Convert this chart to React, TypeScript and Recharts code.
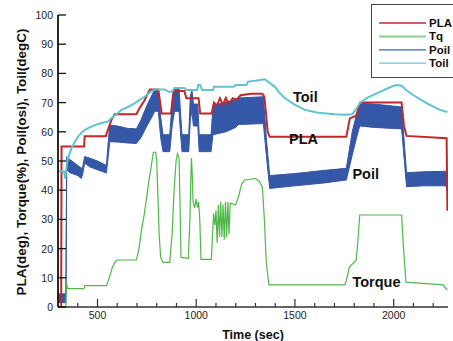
import React from 'react';
import { ComposedChart, Line, Area, Scatter, XAxis, YAxis } from 'recharts';

// ---- Data ----
const plaT = [300, 316, 318, 432, 435, 542, 555, 570, 587, 697, 712, 740, 765, 808, 825, 872, 885, 940, 950, 1012, 1020, 1078, 1090, 1105, 1120, 1135, 1150, 1165, 1185, 1204, 1225, 1280, 1335, 1345, 1362, 1372, 1760, 1778, 1810, 1830, 2040, 2052, 2065, 2268, 2272];
const plaV = [0, 0, 55, 55, 58.5, 58.5, 61, 64, 66, 66, 68, 71, 74.5, 74.5, 66.3, 66.3, 74, 74, 71.5, 71.5, 66.3, 66.3, 70, 69, 71.5, 69.2, 71.6, 69.5, 71.5, 71, 72.5, 73, 73, 72, 60, 58.3, 58.3, 64.6, 65.5, 70, 70, 62, 58.6, 57.8, 33];

const tqT = [300, 340, 342, 348, 432, 436, 545, 560, 575, 590, 600, 697, 710, 722, 735, 748, 760, 773, 783, 795, 800, 806, 812, 820, 832, 866, 878, 888, 898, 905, 913, 918, 923, 960, 968, 973, 976, 980, 984, 992, 1000, 1006, 1012, 1018, 1024, 1077, 1082, 1088, 1094, 1100, 1106, 1112, 1118, 1124, 1130, 1136, 1142, 1148, 1154, 1160, 1166, 1172, 1200, 1215, 1230, 1245, 1300, 1320, 1335, 1345, 1355, 1368, 1752, 1760, 1775, 1795, 1810, 1818, 1828, 2040, 2050, 2062, 2250, 2268, 2272];
const tqV = [0, 0, 8.7, 6.3, 6.3, 7.3, 7.3, 10, 13.5, 15.5, 16.1, 16.1, 20, 26, 31, 37, 43, 48.6, 53, 53, 50, 38, 25, 17, 15.3, 15.3, 25, 40, 50, 52.5, 51, 35, 17, 16.7, 30, 45, 51, 45, 36, 34, 37, 34, 36, 30, 16.3, 16.3, 24, 32, 28, 33, 22, 35, 24, 36, 24, 35, 23, 36, 24, 36, 25, 35.5, 35, 38, 42, 43.5, 44, 43, 41, 30, 15, 7.6, 7.6, 9, 13.5, 15, 16, 22, 31.5, 31.5, 20, 8.5, 7.6, 6, 5.8];

const poilT = [300, 340, 344, 360, 400, 418, 425, 435, 460, 500, 545, 555, 562, 600, 650, 697, 720, 750, 775, 790, 808, 820, 832, 866, 878, 890, 913, 922, 928, 962, 970, 978, 986, 1008, 1015, 1075, 1085, 1150, 1200, 1215, 1340, 1355, 1372, 1500, 1650, 1760, 1790, 1812, 1828, 1900, 2040, 2065, 2150, 2265, 2272];
const poilLo = [1.5, 1.5, 47, 46, 45, 44, 45.5, 49.3, 48, 47, 45.9, 52, 56.6, 56.5, 56.2, 56, 58, 62, 65, 67, 67, 58, 53.2, 53.2, 62, 67, 67, 58, 53.2, 53.2, 64, 67, 62, 62, 53.2, 53.2, 59, 60, 61.5, 62.5, 62.8, 52, 40.6, 41.5, 42.5, 43.5, 52, 58, 62, 61.5, 61, 41.2, 41.5, 41.5, 39];
const poilHi = [4.5, 4.5, 51.5, 50.5, 48.5, 47.5, 48, 51.5, 51, 50, 48.5, 57, 62.3, 62, 61.2, 61, 64, 69, 72.5, 74.5, 74.5, 65, 59, 59, 70, 75, 75, 65, 59, 59, 72, 74.5, 69.5, 69.5, 59, 59, 69, 70.2, 71, 71.6, 72, 58, 45, 45.7, 46.8, 47.5, 60, 66, 69.8, 69.5, 68.5, 46, 46.3, 46.5, 43];

const toilT = [300, 330, 337, 345, 351, 368, 385, 401, 420, 435, 460, 486, 520, 553, 579, 600, 621, 655, 689, 715, 739, 765, 790, 840, 860, 878, 890, 940, 950, 1005, 1010, 1020, 1030, 1085, 1090, 1190, 1200, 1255, 1262, 1300, 1347, 1398, 1420, 1449, 1500, 1550, 1617, 1700, 1752, 1790, 1812, 1830, 1862, 1930, 1990, 2014, 2040, 2060, 2098, 2166, 2234, 2272];
const toilV = [46.5, 46.5, 44, 49, 51, 54.4, 56.5, 58.3, 59.8, 60.6, 61.5, 62.3, 63, 63.5, 65.2, 66.2, 67.5, 68.5, 69.8, 71, 72, 73.5, 74.5, 74.5, 73.7, 73.7, 75, 75, 74.3, 74.3, 76, 76, 74.3, 74.3, 75.4, 75.4, 76, 76, 77.2, 77.5, 78, 75.4, 73.5, 71.5, 69.2, 67.5, 66.5, 66, 65.8, 66, 68, 70, 71.5, 73.7, 75.5, 76, 75.8, 74.5, 72.6, 69.8, 67.5, 66.8];

const noteText = ['Toil', 'PLA', 'Poil', 'Torque'];
const noteT = [1490, 1470, 1791, 1791];
const noteV = [70.1, 55.7, 43.8, 7.0];

const xTicks = [400, 500, 600, 700, 800, 900, 1000, 1100, 1200, 1300, 1400, 1500, 1600, 1700, 1800, 1900, 2000, 2100, 2200];
const yTicks = [0, 10, 20, 30, 40, 50, 60, 70, 80, 90, 100];

const legendNames = ['PLA', 'Tq', 'Poil', 'Toil'];

// ---- Tables built from the arrays ----
const plaData = plaT.map((t, i) => ({ t, v: plaV[i] }));
const tqData = tqT.map((t, i) => ({ t, v: tqV[i] }));
const poilData = poilT.map((t, i) => ({ t, range: [poilLo[i], poilHi[i]] }));
const toilData = toilT.map((t, i) => ({ t, v: toilV[i] }));
const noteData = noteT.map((t, i) => ({ t, v: noteV[i], label: noteText[i] }));

const FONT = '"Liberation Sans", Arial, Helvetica, sans-serif';
const C_PLA = '#c3262d';
const C_TQ = '#4fb848';
const C_POIL = '#3457a7';
const C_TOIL = '#5cc6d0';
const legendColors = [C_PLA, '#8fd08a', '#3a5fb2', '#62cad6'];

const XTick = (props: any) => {
  const { x, y, payload } = props;
  const major = payload.value % 500 === 0;
  return (
    <g>
      <line x1={x} x2={x} y1={y} y2={y - (major ? 8 : 4)} stroke="#333" strokeWidth={1.2} />
      {major && (
        <text x={x} y={y + 12} textAnchor="middle" fontSize={10.5} fill="#222" fontFamily={FONT}>
          {payload.value}
        </text>
      )}
    </g>
  );
};

const YTick = (props: any) => {
  const { x, y, payload } = props;
  return (
    <g>
      <line x1={x} x2={x + 8} y1={y} y2={y} stroke="#111" strokeWidth={1.3} />
      <text x={x - 5} y={y + 4} textAnchor="end" fontSize={10.5} fill="#222" fontFamily={FONT}>
        {payload.value}
      </text>
    </g>
  );
};

const NoteShape = (props: any) => {
  const { cx, cy, payload } = props;
  return (
    <text x={cx} y={cy} fontSize={14.5} fontWeight="bold" fill="#111" fontFamily={FONT}>
      {payload.label}
    </text>
  );
};

export default function App() {
  return (
    <div style={{ position: 'absolute', left: 0, top: 0, width: 453, height: 341, overflow: 'hidden', background: '#fff' }}>
      <ComposedChart width={453} height={341} margin={{ top: 15, right: 5, bottom: 0, left: 0 }}>
        <XAxis
          type="number"
          dataKey="t"
          domain={[300, 2275]}
          allowDataOverflow
          ticks={xTicks}
          interval={0}
          height={34}
          tickSize={0}
          tickMargin={0}
          tickLine={false}
          tick={(p: any) => <XTick {...p} />}
          axisLine={{ stroke: '#333', strokeWidth: 1.5 }}
        />
        <YAxis
          type="number"
          domain={[0, 100]}
          ticks={yTicks}
          interval={0}
          width={58}
          tickSize={0}
          tickMargin={0}
          tickLine={false}
          tick={(p: any) => <YTick {...p} />}
          axisLine={{ stroke: '#111', strokeWidth: 1.8 }}
        />
        <Area
          data={poilData}
          dataKey="range"
          type="linear"
          stroke={C_POIL}
          strokeWidth={1}
          fill={C_POIL}
          fillOpacity={1}
          isAnimationActive={false}
          dot={false}
          activeDot={false}
        />
        <Line data={tqData} dataKey="v" type="linear" stroke={C_TQ} strokeWidth={1.2} dot={false} activeDot={false} isAnimationActive={false} />
        <Line data={plaData} dataKey="v" type="linear" stroke={C_PLA} strokeWidth={2} dot={false} activeDot={false} isAnimationActive={false} />
        <Line data={toilData} dataKey="v" type="linear" stroke={C_TOIL} strokeWidth={2} dot={false} activeDot={false} isAnimationActive={false} />
        <Scatter data={noteData} dataKey="v" shape={(p: any) => <NoteShape {...p} />} isAnimationActive={false} />
      </ComposedChart>
      <svg width={453} height={341} style={{ position: 'absolute', left: 0, top: 0, pointerEvents: 'none' }}>
        <text
          x={26}
          y={162}
          transform="rotate(-90 26 162)"
          textAnchor="middle"
          fontSize={13.5}
          fontWeight="bold"
          fill="#111"
          fontFamily={FONT}
        >
          PLA(deg), Torque(%), Poil(osi), Toil(degC)
        </text>
        <text x={253} y={338.5} textAnchor="middle" fontSize={12.5} fontWeight="bold" fill="#111" fontFamily={FONT}>
          Time (sec)
        </text>
        <rect x={371.5} y={4.5} width={100} height={73} fill="#fff" stroke="#444" strokeWidth={1} />
        {legendNames.map((name, i) => {
          const y = 23 + i * 13.4;
          return (
            <g key={name}>
              <line x1={379} x2={426} y1={y} y2={y} stroke={legendColors[i]} strokeWidth={i === 1 ? 2 : 1.3} />
              <text x={429} y={y + 4} fontSize={11.5} fontWeight="bold" fill="#111" fontFamily={FONT}>
                {name}
              </text>
            </g>
          );
        })}
      </svg>
    </div>
  );
}
